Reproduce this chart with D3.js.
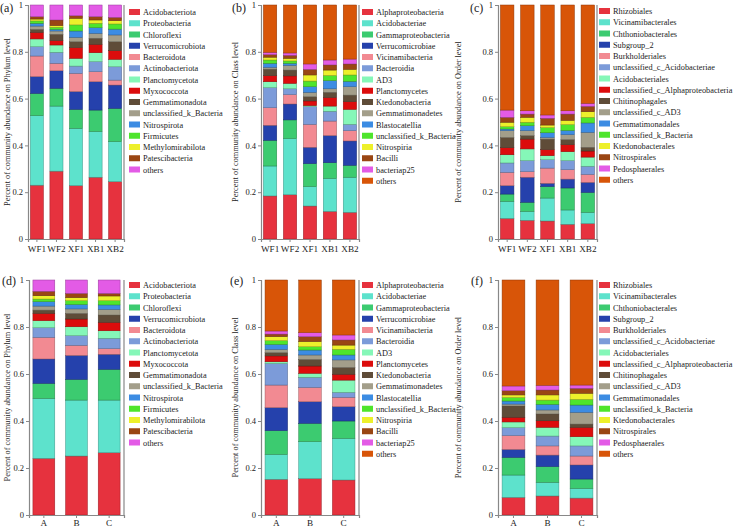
<!DOCTYPE html>
<html>
<head>
<meta charset="utf-8">
<script src="https://cdn.jsdelivr.net/npm/d3@7"></script>
<style>
  body { margin: 0; background: #fff; }
  text { font-family: "Liberation Serif", "Times New Roman", serif; fill: #222; }
</style>
</head>
<body>
<svg id="chart" width="733" height="527"></svg>
<script>
// samples
var topSamples = ["WF1", "WF2", "XF1", "XB1", "XB2"];
var groupSamples = ["A", "B", "C"];

var phylumNames = ["Acidobacteriota", "Proteobacteria", "Chloroflexi", "Verrucomicrobiota",
  "Bacteroidota", "Actinobacteriota", "Planctomycetota", "Myxococcota", "Gemmatimonadota",
  "unclassified_k_Bacteria", "Nitrospirota", "Firmicutes", "Methylomirabilota",
  "Patescibacteria", "others"];

var classNames = ["Alphaproteobacteria", "Acidobacteriae", "Gammaproteobacteria",
  "Verrucomicrobiae", "Vicinamibacteria", "Bacteroidia", "AD3", "Planctomycetes",
  "Ktedonobacteria", "Gemmatimonadetes", "Blastocatellia", "unclassified_k_Bacteria",
  "Nitrospiria", "Bacilli", "bacteriap25", "others"];

var orderNames = ["Rhizobiales", "Vicinamibacterales", "Chthoniobacterales", "Subgroup_2",
  "Burkholderiales", "unclassified_c_Acidobacteriae", "Acidobacteriales",
  "unclassified_c_Alphaproteobacteria", "Chitinophagales", "unclassified_c_AD3",
  "Gemmatimonadales", "unclassified_k_Bacteria", "Ktedonobacterales", "Nitrospirales",
  "Pedosphaerales", "others"];

// one row per taxon, one value per sample
var phylumTop = [
  [0.230, 0.290, 0.228, 0.264, 0.245],
  [0.297, 0.278, 0.245, 0.195, 0.171],
  [0.095, 0.076, 0.081, 0.092, 0.142],
  [0.072, 0.075, 0.076, 0.121, 0.100],
  [0.088, 0.032, 0.078, 0.043, 0.021],
  [0.040, 0.047, 0.031, 0.043, 0.057],
  [0.033, 0.031, 0.033, 0.038, 0.032],
  [0.028, 0.019, 0.046, 0.036, 0.037],
  [0.013, 0.027, 0.025, 0.026, 0.038],
  [0.014, 0.014, 0.019, 0.021, 0.029],
  [0.012, 0.007, 0.027, 0.024, 0.025],
  [0.010, 0.009, 0.026, 0.019, 0.022],
  [0.008, 0.007, 0.028, 0.014, 0.014],
  [0.010, 0.024, 0.011, 0.014, 0.014],
  [0.050, 0.064, 0.046, 0.050, 0.053]
];

var classTop = [
  [0.184, 0.189, 0.141, 0.118, 0.114],
  [0.128, 0.240, 0.083, 0.141, 0.150],
  [0.110, 0.080, 0.098, 0.067, 0.051],
  [0.064, 0.068, 0.070, 0.116, 0.104],
  [0.075, 0.040, 0.098, 0.062, 0.044],
  [0.086, 0.025, 0.076, 0.042, 0.027],
  [0.025, 0.023, 0.004, 0.022, 0.064],
  [0.026, 0.032, 0.020, 0.037, 0.033],
  [0.028, 0.025, 0.018, 0.022, 0.028],
  [0.008, 0.020, 0.019, 0.015, 0.036],
  [0.017, 0.009, 0.024, 0.035, 0.023],
  [0.014, 0.010, 0.024, 0.022, 0.027],
  [0.012, 0.011, 0.026, 0.023, 0.024],
  [0.011, 0.013, 0.024, 0.022, 0.023],
  [0.010, 0.010, 0.023, 0.021, 0.021],
  [0.202, 0.205, 0.252, 0.235, 0.231]
];

var orderTop = [
  [0.088, 0.080, 0.077, 0.063, 0.066],
  [0.073, 0.038, 0.098, 0.061, 0.048],
  [0.031, 0.039, 0.049, 0.094, 0.085],
  [0.036, 0.107, 0.014, 0.038, 0.043],
  [0.057, 0.024, 0.065, 0.040, 0.034],
  [0.040, 0.047, 0.036, 0.039, 0.035],
  [0.035, 0.050, 0.017, 0.038, 0.039],
  [0.030, 0.042, 0.026, 0.030, 0.026],
  [0.044, 0.015, 0.045, 0.022, 0.016],
  [0.029, 0.021, 0.007, 0.021, 0.064],
  [0.007, 0.021, 0.020, 0.018, 0.040],
  [0.010, 0.015, 0.022, 0.025, 0.024],
  [0.019, 0.021, 0.011, 0.018, 0.024],
  [0.021, 0.014, 0.029, 0.027, 0.023],
  [0.031, 0.014, 0.014, 0.014, 0.013],
  [0.449, 0.452, 0.470, 0.452, 0.420]
];

var phylumGroup = [
  [0.241, 0.251, 0.265],
  [0.255, 0.238, 0.224],
  [0.064, 0.088, 0.131],
  [0.104, 0.102, 0.064],
  [0.092, 0.043, 0.024],
  [0.041, 0.041, 0.044],
  [0.030, 0.038, 0.032],
  [0.031, 0.033, 0.036],
  [0.014, 0.024, 0.031],
  [0.017, 0.019, 0.024],
  [0.019, 0.019, 0.019],
  [0.011, 0.016, 0.018],
  [0.014, 0.013, 0.020],
  [0.019, 0.018, 0.011],
  [0.048, 0.057, 0.057]
];

var classGroup = [
  [0.152, 0.155, 0.149],
  [0.106, 0.157, 0.177],
  [0.101, 0.078, 0.074],
  [0.098, 0.092, 0.061],
  [0.096, 0.061, 0.040],
  [0.092, 0.043, 0.021],
  [0.007, 0.017, 0.052],
  [0.025, 0.031, 0.025],
  [0.014, 0.028, 0.029],
  [0.014, 0.019, 0.032],
  [0.021, 0.021, 0.021],
  [0.016, 0.014, 0.024],
  [0.017, 0.022, 0.018],
  [0.011, 0.021, 0.022],
  [0.013, 0.017, 0.021],
  [0.217, 0.224, 0.234]
];

var orderGroup = [
  [0.075, 0.081, 0.072],
  [0.095, 0.058, 0.041],
  [0.075, 0.067, 0.040],
  [0.034, 0.049, 0.060],
  [0.059, 0.039, 0.038],
  [0.034, 0.042, 0.043],
  [0.024, 0.037, 0.039],
  [0.020, 0.028, 0.040],
  [0.048, 0.029, 0.014],
  [0.008, 0.017, 0.050],
  [0.013, 0.024, 0.031],
  [0.015, 0.018, 0.024],
  [0.011, 0.022, 0.026],
  [0.018, 0.021, 0.021],
  [0.020, 0.020, 0.014],
  [0.451, 0.448, 0.447]
];

var palette = ["#E6323E", "#5DE2CC", "#3CCB70", "#2541AC", "#F28A92", "#7C9BD9",
  "#85F7B8", "#DC0C0C", "#5F4C38", "#A39E8A", "#3C8CE3", "#4EE52C", "#EDF02B",
  "#9A4613", "#E35BE6", "#D85508"];

var yTicks = [0, 0.2, 0.4, 0.6, 0.8, 1];

var svg = d3.select("#chart");

var panels = [
  {tag: "(a)", tagX: 0, tagY: 12, x0: 28, x1: 124, y0: 5, y1: 239, samples: topSamples,
   names: phylumNames, values: phylumTop, level: "Phylum", labX: 7, legX: 129, legY: 12, xlabY: 252},
  {tag: "(b)", tagX: 232, tagY: 12, x0: 261, x1: 359, y0: 5, y1: 239, samples: topSamples,
   names: classNames, values: classTop, level: "Class", labX: 235, legX: 362, legY: 12, xlabY: 252},
  {tag: "(c)", tagX: 470, tagY: 12, x0: 498, x1: 597, y0: 5, y1: 239, samples: topSamples,
   names: orderNames, values: orderTop, level: "Order", labX: 458, legX: 599, legY: 11, xlabY: 252},
  {tag: "(d)", tagX: 2, tagY: 285, x0: 29, x1: 124, y0: 280, y1: 515, samples: groupSamples,
   names: phylumNames, values: phylumGroup, level: "Phylum", labX: 7, legX: 129, legY: 285, xlabY: 526},
  {tag: "(e)", tagX: 230, tagY: 285, x0: 261, x1: 359, y0: 280, y1: 515, samples: groupSamples,
   names: classNames, values: classGroup, level: "Class", labX: 235, legX: 362, legY: 285, xlabY: 526},
  {tag: "(f)", tagX: 471, tagY: 285, x0: 498, x1: 597, y0: 280, y1: 515, samples: groupSamples,
   names: orderNames, values: orderGroup, level: "Order", labX: 458, legX: 599, legY: 285, xlabY: 526}
];

panels.forEach(drawPanel);

function drawPanel(p) {
  var g = svg.append("g");
  var keys = p.names.map(function(d, i) { return i; });

  var table = p.samples.map(function(s, j) {
    var row = {sample: s};
    keys.forEach(function(k) { row[k] = p.values[k][j]; });
    return row;
  });

  var series = d3.stack().keys(keys)(table);

  var xScale = d3.scaleBand()
    .domain(p.samples)
    .range([p.x0, p.x1])
    .paddingInner(0.33)
    .paddingOuter(0.12);

  var yScale = d3.scaleLinear()
    .domain([0, 1])
    .range([p.y1, p.y0]);

  // bars
  g.selectAll("g.layer")
    .data(series)
    .enter()
    .append("g")
    .attr("class", "layer")
    .attr("fill", function(d) { return palette[d.key]; })
    .attr("stroke", function(d) { return d3.color(palette[d.key]).darker(1.2); })
    .attr("stroke-width", 0.5)
    .selectAll("rect")
    .data(function(d) { return d; })
    .enter()
    .append("rect")
    .attr("x", function(d) { return xScale(d.data.sample); })
    .attr("width", xScale.bandwidth())
    .attr("y", function(d) { return yScale(Math.min(d[1], 1)); })
    .attr("height", function(d) { return yScale(d[0]) - yScale(Math.min(d[1], 1)); });

  // axes
  var yAxis = g.append("g")
    .attr("transform", "translate(" + p.x0 + ",0)")
    .call(d3.axisLeft(yScale).tickValues(yTicks).tickSize(3).tickPadding(2)
      .tickFormat(function(d) { return d === 0 || d === 1 ? d : d.toFixed(1); }));

  var xAxis = g.append("g")
    .attr("transform", "translate(0," + p.y1 + ")")
    .call(d3.axisBottom(xScale).tickSize(3).tickPadding(2));
  xAxis.selectAll("text").attr("y", p.xlabY - p.y1).attr("dy", null);

  [yAxis, xAxis].forEach(function(a) {
    a.select(".domain").attr("stroke", "#888").attr("stroke-width", 1.2);
    a.selectAll(".tick line").attr("stroke", "#888");
    a.selectAll("text")
      .style("font-family", "Liberation Serif")
      .style("font-size", "8.5px")
      .attr("fill", "#222");
  });
  xAxis.selectAll("text").style("font-size", "9.2px");

  g.append("line")
    .attr("x1", p.x1).attr("x2", p.x1)
    .attr("y1", p.y0).attr("y2", p.y1)
    .attr("stroke", "#888")
    .attr("stroke-width", 1.2);

  // y label
  g.append("text")
    .attr("transform", "translate(" + (p.labX + 3) + "," + ((p.y0 + p.y1) / 2) + ") rotate(-90)")
    .attr("text-anchor", "middle")
    .style("font-size", "8.3px")
    .text("Percent of community abundance on " + p.level + " level");

  // panel tag
  g.append("text")
    .attr("x", p.tagX)
    .attr("y", p.tagY)
    .style("font-size", "12px")
    .text(p.tag);

  // legend
  var leg = g.selectAll("g.leg")
    .data(p.names)
    .enter()
    .append("g")
    .attr("transform", function(d, i) {
      return "translate(" + p.legX + "," + (p.legY + i * 11.25) + ")";
    });

  leg.append("rect")
    .attr("x", 0)
    .attr("y", -3)
    .attr("width", 11)
    .attr("height", 6)
    .attr("fill", function(d, i) { return palette[i]; });

  leg.append("text")
    .attr("x", 14)
    .attr("y", 3)
    .style("font-size", "8.3px")
    .text(function(d) { return d; });
}
</script>
</body>
</html>
